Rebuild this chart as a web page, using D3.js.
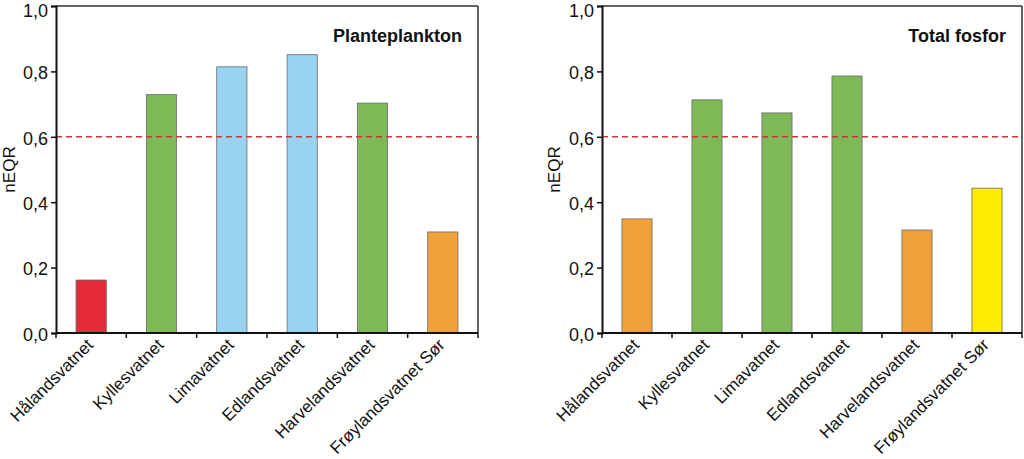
<!DOCTYPE html>
<html><head><meta charset="utf-8">
<script src="https://cdn.jsdelivr.net/npm/d3@7"></script>
<style>body{margin:0;background:#fff}svg{display:block}text{font-family:"Liberation Sans",Arial,sans-serif;fill:#111}</style>
</head><body>
<svg id="c" width="1024" height="459"></svg>
<script>
const lakes = ["Hålandsvatnet","Kyllesvatnet","Limavatnet","Edlandsvatnet","Harvelandsvatnet","Frøylandsvatnet Sør"];
const planteplankton = [0.162, 0.729, 0.814, 0.851, 0.703, 0.309];
const planteColors = ["#e52b3a","#7dba57","#98d3f1","#98d3f1","#7dba57","#f0a238"];
const totalFosfor = [0.349, 0.713, 0.673, 0.786, 0.315, 0.443];
const fosforColors = ["#f0a238","#7dba57","#7dba57","#7dba57","#f0a238","#ffec00"];
const yTicks = [0, 0.2, 0.4, 0.6, 0.8, 1.0];
const threshold = 0.6;
const titles = ["Planteplankton","Total fosfor"];
const yLabel = "nEQR";

const svg = d3.select("#c");
const fmt = d => d.toFixed(1).replace(".", ",");

function panel(x0, x1, yTop, yBot, values, colors, title, ylabX) {
  const g = svg.append("g");
  const x = d3.scaleBand().domain(lakes).range([x0, x1]).paddingInner(0.57).paddingOuter(0.285);
  const xb = d3.scaleBand().domain(lakes).range([x0, x1]);
  const y = d3.scaleLinear().domain([0, 1]).range([yBot, yTop]);

  // frame top/right
  g.append("line").attr("x1", x0).attr("x2", x1).attr("y1", yTop).attr("y2", yTop).attr("stroke", "#333").attr("stroke-width", 1.5);
  g.append("line").attr("x1", x1).attr("x2", x1).attr("y1", yTop).attr("y2", yBot).attr("stroke", "#333").attr("stroke-width", 1.5);

  // bars
  g.selectAll("rect.bar").data(values).enter().append("rect")
    .attr("x", (d, i) => x(lakes[i])).attr("width", x.bandwidth())
    .attr("y", d => y(d)).attr("height", d => y(0) - y(d))
    .attr("fill", (d, i) => colors[i]).attr("stroke", "#6a6a6a").attr("stroke-width", 0.8);

  // threshold
  g.append("line").attr("x1", x0).attr("x2", x1).attr("y1", y(threshold)).attr("y2", y(threshold))
    .attr("stroke", "#d0343a").attr("stroke-width", 1.6).attr("stroke-dasharray", "6,4");

  // y axis
  const ya = g.append("g").attr("transform", `translate(${x0},0)`)
    .call(d3.axisLeft(y).tickValues(yTicks).tickFormat(fmt).tickSize(5).tickPadding(3));
  ya.select(".domain").attr("stroke", "#111").attr("stroke-width", 2);
  ya.selectAll(".tick line").attr("stroke", "#111").attr("stroke-width", 1.5);
  ya.selectAll(".tick text").style("font-size", "18px").attr("fill", "#111")
    .attr("dy", d => d === 1 ? "0.58em" : "0.4em");

  // x axis
  const boundaries = lakes.map(l => xb(l)).concat([x1]);
  g.append("line").attr("x1", x0).attr("x2", x1).attr("y1", yBot).attr("y2", yBot).attr("stroke", "#111").attr("stroke-width", 2);
  g.selectAll("line.xt").data(boundaries).enter().append("line")
    .attr("x1", d => d).attr("x2", d => d).attr("y1", yBot).attr("y2", yBot + 5)
    .attr("stroke", "#111").attr("stroke-width", 1.5);
  g.selectAll("text.xl").data(lakes).enter().append("text")
    .attr("text-anchor", "end")
    .attr("transform", d => `translate(${xb(d) + xb.bandwidth() / 2 + 3},${yBot + 13}) rotate(-45)`)
    .style("font-size", "17px").text(d => d);

  // title
  g.append("text").attr("x", x1 - 16).attr("y", 42).attr("text-anchor", "end")
    .style("font-size", "18px").style("font-weight", "bold").text(title);

  // y label
  g.append("text").attr("transform", `translate(${ylabX},${(yTop + yBot) / 2}) rotate(-90)`)
    .attr("text-anchor", "middle").style("font-size", "17px").text(yLabel);
}

panel(56, 478, 6, 333, planteplankton, planteColors, titles[0], 15);
panel(602, 1022, 6, 333, totalFosfor, fosforColors, titles[1], 560);
</script>
</body></html>
